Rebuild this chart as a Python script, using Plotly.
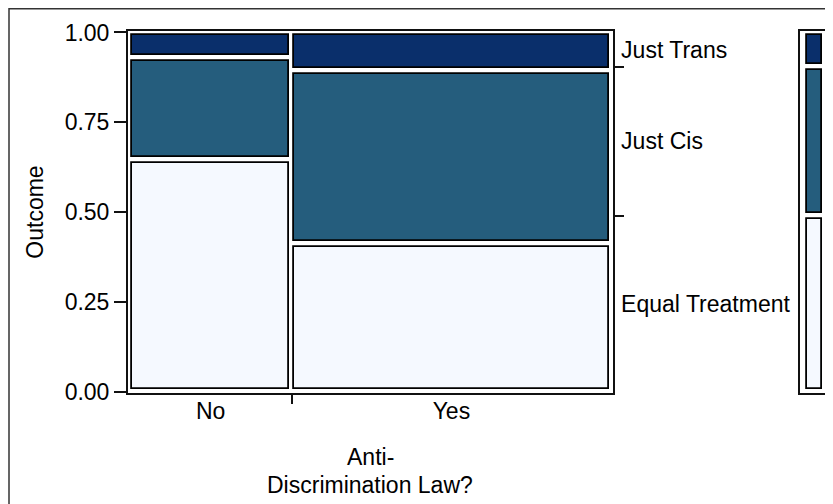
import plotly.graph_objects as go
import numpy as np

law = ["No", "Yes"]                      # x categories
law_share = [0.337, 0.663]               # column widths (share of observations)
outcomes = ["Equal Treatment", "Just Cis", "Just Trans"]
equal_treatment = [0.644, 0.410]         # share within each column
just_cis = [0.286, 0.482]
just_trans = [0.070, 0.108]
x_title_lines = ["Anti-", "Discrimination Law?"]
y_title = "Outcome"

colors = {"Equal Treatment": "#F5F9FF", "Just Cis": "#255D7D", "Just Trans": "#0A2F6B"}

# ---- layout geometry (page body adds an 8px offset) ----
OFF = 8
W, H = 833 - OFF, 504 - OFF
ML, MR, MT, MB = 128 - OFF, 1, 31 - OFF, 111
plot_w = W - ML - MR
plot_h = H - MT - MB
main_px = 484.5
main_dom = [0, main_px / plot_w]
leg_dom = [(800 - OFF - ML) / plot_w, 1.0]


def py(p):
    """screen pixel row -> paper y"""
    return (H - MB - (p - OFF)) / plot_h


def px(p):
    """screen pixel column -> paper x"""
    return (p - OFF - ML) / plot_w


ix = 2.5 / main_px      # pixel inset in data units (x)
iy = 3.0 / plot_h       # pixel inset in data units (y)

shares = {"Equal Treatment": equal_treatment, "Just Cis": just_cis, "Just Trans": just_trans}
left = np.concatenate([[0], np.cumsum(law_share)[:-1]])
centers = left + np.array(law_share) / 2

fig = go.Figure()
bottom = np.zeros(len(law))
for o in outcomes:
    h = np.array(shares[o])
    fig.add_trace(go.Bar(
        x=centers, y=h - 2 * iy, base=bottom + iy,
        width=np.array(law_share) - 2 * ix,
        marker=dict(color=colors[o], line=dict(color="black", width=1.8)),
        name=o, showlegend=False, xaxis="x", yaxis="y", hoverinfo="skip"))
    bottom = bottom + h

# marginal distribution (right bar)
marg = {o: float(np.dot(law_share, shares[o])) for o in outcomes}
mb = 0.0
bounds = []
mids = []
for o in outcomes:
    fig.add_trace(go.Bar(
        x=[0.45], y=[marg[o] - 2 * iy], base=[mb + iy], width=[0.48],
        marker=dict(color=colors[o], line=dict(color="black", width=1.8)),
        showlegend=False, xaxis="x3", yaxis="y4", hoverinfo="skip"))
    mids.append(mb + marg[o] / 2)
    mb += marg[o]
    bounds.append(mb)
bounds = bounds[:-1]

# invisible traces so the overlaying tick axes are drawn
for xa, ya in [("x2", "y"), ("x", "y2"), ("x", "y3")]:
    fig.add_trace(go.Scatter(x=[0.5], y=[0.5], mode="markers",
                             marker=dict(opacity=0), showlegend=False,
                             hoverinfo="skip", xaxis=xa, yaxis=ya))

FAM = "Liberation Sans, Arial, sans-serif"
font = dict(family=FAM, size=23, color="black")
xr = [-0.003, 1.003]
yr = [-0.004, 1.004]

fig.update_layout(
    width=W, height=H,
    margin=dict(l=ML, r=MR, t=MT, b=MB),
    paper_bgcolor="white", plot_bgcolor="white",
    barmode="overlay", bargap=0,
    font=font,
    xaxis=dict(domain=main_dom, range=xr, tickvals=list(centers), ticktext=law,
               ticks="", ticklabelstandoff=-4,
               showline=True, linecolor="#111", linewidth=2, mirror=True,
               showgrid=False, zeroline=False, automargin=False),
    xaxis2=dict(overlaying="x", anchor="y", domain=main_dom, range=xr,
                tickvals=[float(left[1])], ticks="outside", ticklen=10, tickwidth=2,
                tickcolor="#111", showticklabels=False, showline=False,
                showgrid=False, zeroline=False, automargin=False),
    yaxis=dict(range=yr, tickvals=[0, 0.25, 0.5, 0.75, 1.0],
               ticktext=["0.00", "0.25", "0.50", "0.75", "1.00"],
               ticks="outside", ticklen=12, tickwidth=2, tickcolor="#111",
               showline=True, linecolor="#111", linewidth=2, mirror=True,
               showgrid=False, zeroline=False, automargin=False,
               title=dict(text=y_title, standoff=15,
                          font=dict(family=FAM, size=23, color="black"))),
    yaxis2=dict(overlaying="y", anchor="x", side="right", range=yr,
                tickvals=bounds, ticks="outside", ticklen=10, tickwidth=2,
                tickcolor="#111", showticklabels=False, showline=False,
                showgrid=False, zeroline=False, automargin=False),
    yaxis3=dict(overlaying="y", anchor="x", side="right", range=yr,
                tickvals=mids, ticktext=outcomes, ticks="outside", ticklen=3,
                tickcolor="rgba(0,0,0,0)", showline=False,
                showgrid=False, zeroline=False, automargin=False),
    xaxis3=dict(domain=leg_dom, anchor="y4", range=[0, 1], showticklabels=False,
                ticks="", showline=True, linecolor="#111", linewidth=2, mirror=True,
                showgrid=False, zeroline=False, automargin=False),
    yaxis4=dict(domain=[0, 1], anchor="x3", range=yr, showticklabels=False,
                ticks="", showline=True, linecolor="#111", linewidth=2, mirror=True,
                showgrid=False, zeroline=False, automargin=False),
)

# x-axis title (two lines, as in the reference)
xc = (main_dom[0] + main_dom[1]) / 2
for txt, row in zip(x_title_lines, [457, 485]):
    fig.add_annotation(text=txt, xref="paper", yref="paper", x=xc, y=py(row),
                       xanchor="center", yanchor="middle", showarrow=False,
                       font=dict(family=FAM, size=23, color="black"))

# outer frame of the figure (extends past the right/bottom edges as in the reference)
fig.add_shape(type="rect", xref="paper", yref="paper",
              x0=px(9), x1=1.2, y0=-0.6, y1=(H - MB - 0.75) / plot_h,
              line=dict(color="#333", width=1.5), fillcolor="rgba(0,0,0,0)", layer="below")

fig.write_html("out.html")
